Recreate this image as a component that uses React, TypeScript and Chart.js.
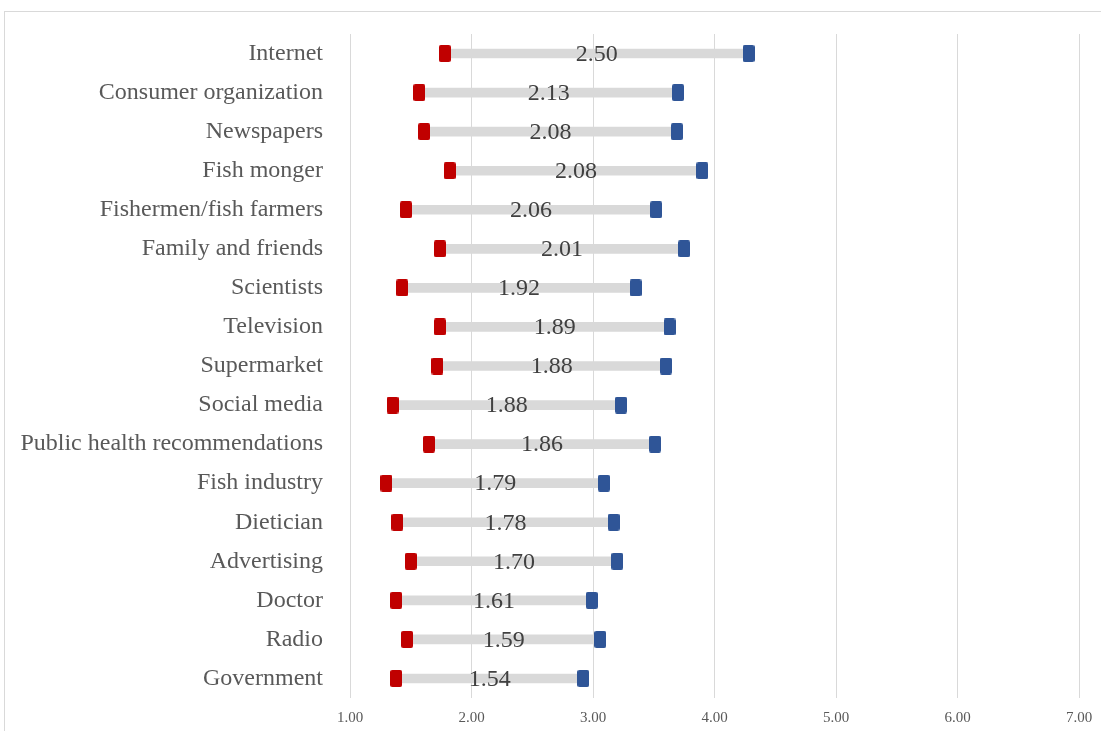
import React, { useEffect, useRef } from "react";
import { Chart, registerables } from "chart.js";

Chart.register(...registerables);

const categories = [
  "Internet",
  "Consumer organization",
  "Newspapers",
  "Fish monger",
  "Fishermen/fish farmers",
  "Family and friends",
  "Scientists",
  "Television",
  "Supermarket",
  "Social media",
  "Public health recommendations",
  "Fish industry",
  "Dietician",
  "Advertising",
  "Doctor",
  "Radio",
  "Government",
];

const lowValues = [1.78, 1.57, 1.61, 1.82, 1.46, 1.74, 1.43, 1.74, 1.72, 1.35, 1.65, 1.30, 1.39, 1.50, 1.38, 1.47, 1.38];
const highValues = [4.28, 3.70, 3.69, 3.90, 3.52, 3.75, 3.35, 3.63, 3.60, 3.23, 3.51, 3.09, 3.17, 3.20, 2.99, 3.06, 2.92];
const diffLabels = ["2.50", "2.13", "2.08", "2.08", "2.06", "2.01", "1.92", "1.89", "1.88", "1.88", "1.86", "1.79", "1.78", "1.70", "1.61", "1.59", "1.54"];

const xTicks = [1, 2, 3, 4, 5, 6, 7];

const SERIF = '"Liberation Serif", "Times New Roman", serif';

function makeMarker(color: string): HTMLCanvasElement {
  const c = document.createElement("canvas");
  c.width = 12;
  c.height = 17;
  const ctx = c.getContext("2d")!;
  ctx.fillStyle = color;
  ctx.beginPath();
  if ((ctx as any).roundRect) {
    (ctx as any).roundRect(0, 0, 12, 17, 2);
  } else {
    ctx.rect(0, 0, 12, 17);
  }
  ctx.fill();
  return c;
}

const framePlugin = {
  id: "frame",
  beforeDraw(chart: any) {
    const ctx = chart.ctx;
    ctx.save();
    ctx.fillStyle = "#ffffff";
    ctx.fillRect(0, 0, chart.width, chart.height);
    ctx.strokeStyle = "#d9d9d9";
    ctx.lineWidth = 1;
    ctx.strokeRect(4.5, 11.5, chart.width + 20, chart.height + 20);
    ctx.restore();
  },
};

const diffLabelPlugin = {
  id: "diffLabels",
  afterDatasetsDraw(chart: any) {
    const ctx = chart.ctx;
    const xs = chart.scales.x;
    const ys = chart.scales.y;
    ctx.save();
    ctx.font = `24px ${SERIF}`;
    ctx.fillStyle = "#404040";
    ctx.textAlign = "center";
    ctx.textBaseline = "middle";
    diffLabels.forEach((lab, i) => {
      const x = xs.getPixelForValue((lowValues[i] + highValues[i]) / 2);
      const y = ys.getPixelForValue(i);
      ctx.fillText(lab, x, y + 1);
    });
    ctx.restore();
  },
};

export default function App() {
  const ref = useRef<HTMLCanvasElement | null>(null);

  useEffect(() => {
    if (!ref.current) return;
    const redMarker = makeMarker("#C00000");
    const blueMarker = makeMarker("#2F5597");
    const chart = new Chart(ref.current, {
      type: "bar",
      data: {
        labels: categories,
        datasets: [
          {
            type: "bar",
            label: "range",
            data: categories.map((_, i) => [lowValues[i], highValues[i]]) as any,
            backgroundColor: "#d9d9d9",
            borderWidth: 0,
            barThickness: 9,
            indexAxis: "y",
            order: 3,
          } as any,
          {
            type: "line",
            label: "low",
            data: lowValues,
            showLine: false,
            pointStyle: redMarker,
            pointRadius: 8,
            indexAxis: "y",
            order: 1,
          } as any,
          {
            type: "line",
            label: "high",
            data: highValues,
            showLine: false,
            pointStyle: blueMarker,
            pointRadius: 8,
            indexAxis: "y",
            order: 2,
          } as any,
        ],
      },
      options: {
        indexAxis: "y",
        animation: false,
        responsive: false,
        devicePixelRatio: 1,
        layout: { padding: { top: 34, right: 22, left: 0, bottom: 0 } },
        plugins: {
          legend: { display: false },
          tooltip: { enabled: false },
        },
        scales: {
          x: {
            type: "linear",
            min: xTicks[0],
            max: xTicks[xTicks.length - 1],
            afterBuildTicks: (scale: any) => {
              scale.ticks = xTicks.map((v) => ({ value: v }));
            },
            afterFit: (scale: any) => {
              scale.height = 33;
              scale.paddingLeft = 0;
              scale.paddingRight = 0;
            },
            grid: { color: "#d9d9d9", lineWidth: 1, drawTicks: false },
            border: { display: false },
            ticks: {
              padding: 11,
              color: "#595959",
              font: { family: SERIF, size: 15 },
              callback: (v: any) => Number(v).toFixed(2),
            },
          },
          y: {
            type: "category",
            offset: true,
            afterFit: (scale: any) => {
              scale.width = 350;
              scale.paddingTop = 0;
              scale.paddingBottom = 0;
            },
            grid: { display: false, drawTicks: false },
            border: { display: false },
            ticks: {
              padding: 27,
              color: "#595959",
              font: { family: SERIF, size: 24 },
            },
          },
        },
      },
      plugins: [framePlugin, diffLabelPlugin],
    } as any);
    return () => chart.destroy();
  }, []);

  return (
    <div style={{ position: "absolute", left: 0, top: 0, width: 1101, height: 731 }}>
      <canvas ref={ref} width={1101} height={731} style={{ display: "block" }} />
    </div>
  );
}
